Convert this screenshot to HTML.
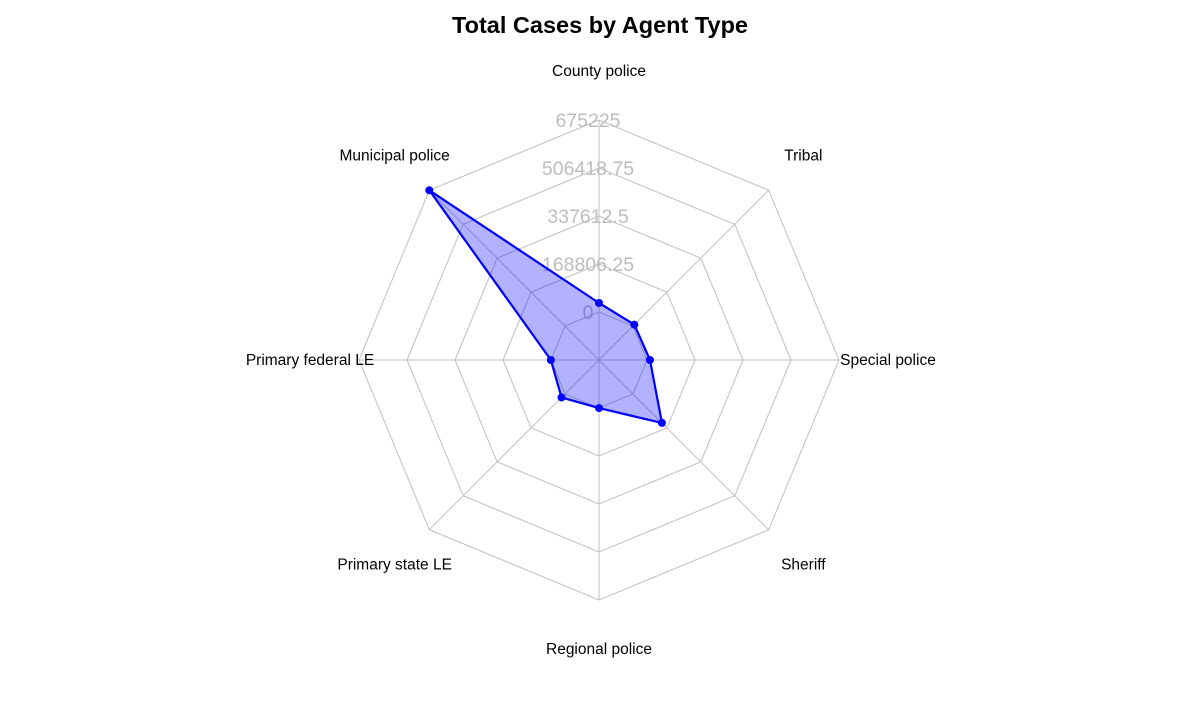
<!DOCTYPE html>
<html><head><meta charset="utf-8"><style>
body{margin:0;background:#fff;font-family:"Liberation Sans",Arial,sans-serif}
</style></head><body>
<svg id="chart" width="1200" height="720">
<text x="600" y="33" text-anchor="middle" font-size="23.5" font-weight="bold" fill="#000">Total Cases by Agent Type</text>
<g id="grid"></g><g id="labels"></g><g id="series"></g><g id="cats"></g>
</svg>
<script>
const categories=["County police","Municipal police","Primary federal LE","Primary state LE","Regional police","Sheriff","Special police","Tribal"];
const values=[31650,675225,500,17600,300,144200,10500,7000];
const tickLabels=["0","168806.25","337612.5","506418.75","675225"];
const maxVal=675225;
const cx=599,cy=360,r0=48,rMax=240;
const NS="http://www.w3.org/2000/svg";
const n=categories.length;
function ang(i){return -Math.PI/2-i*2*Math.PI/n;}
function rad(v){return r0+(v/maxVal)*(rMax-r0);}
function pt(i,r){return [cx+r*Math.cos(ang(i)),cy+r*Math.sin(ang(i))];}
function mk(t,a,p){const e=document.createElementNS(NS,t);for(const k in a)e.setAttribute(k,a[k]);p.appendChild(e);return e;}
const grid=document.getElementById('grid');
for(let l=0;l<tickLabels.length;l++){
 const r=r0+l*(rMax-r0)/(tickLabels.length-1);
 const pts=categories.map((c,i)=>pt(i,r).join(',')).join(' ');
 const ring=mk('polygon',{points:pts,fill:'none',stroke:'#c0c0c0','stroke-width':1},grid);
 
 
}
categories.forEach((c,i)=>{
 const [x,y]=pt(i,rMax);
 const ln=mk('line',{x1:cx,y1:cy,x2:x,y2:y,stroke:'#c0c0c0','stroke-width':1},grid);
 
 
});
const lab=document.getElementById('labels');
tickLabels.forEach((t,l)=>{
 const r=r0+l*(rMax-r0)/(tickLabels.length-1);
 const e=mk('text',{x:588,y:cy-r+7,'text-anchor':'middle','font-size':19.5,fill:'#bdbdbd'},lab);
 e.textContent=t;
 
 
});
const ser=document.getElementById('series');
const sp=values.map((v,i)=>pt(i,rad(v)).join(',')).join(' ');
const poly=mk('polygon',{points:sp,fill:'rgba(0,0,255,0.3)',stroke:'#0000ff','stroke-width':2.2},ser);


values.forEach((v,i)=>{
 const [x,y]=pt(i,rad(v));
 const d=mk('circle',{cx:x,cy:y,r:4,fill:'#0000ff'},ser);
 
 
});
const cats=document.getElementById('cats');
categories.forEach((c,i)=>{
 const [x,y]=pt(i,289);
 const e=mk('text',{x:x,y:y+5,'text-anchor':'middle','font-size':15.5,fill:'#000'},cats);
 e.textContent=c;
 
 
});
</script>
</body></html>
